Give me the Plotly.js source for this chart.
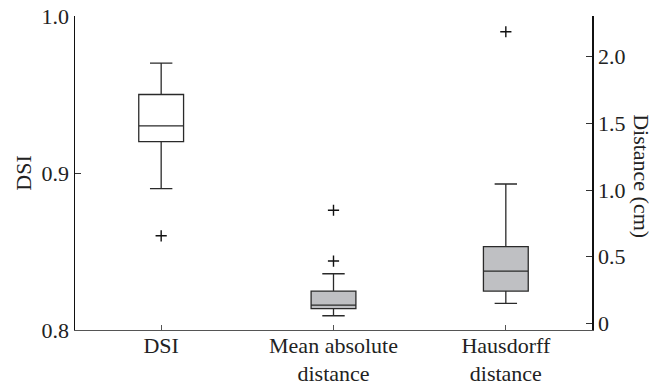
<!DOCTYPE html>
<html>
<head>
<meta charset="utf-8">
<script src="https://cdn.plot.ly/plotly-3.0.1.min.js"></script>
<style>html,body{margin:0;padding:0;background:#fff;}#chart{width:662px;height:385px;}</style>
</head>
<body>
<div id="chart"></div>
<script>
// Categories and tick labels
const categories = ["DSI", "Mean absolute<br>distance", "Hausdorff<br>distance"];
const leftTickVals = [0.8, 0.9, 1.0];
const leftTickText = ["0.8", "0.9", "1.0"];
const rightTickVals = [0, 0.5, 1.0, 1.5, 2.0];
const rightTickText = ["0", "0.5", "1.0", "1.5", "2.0"];

// DSI (left axis)
const dsiStats = {q1: 0.92, median: 0.93, q3: 0.95, lower: 0.89, upper: 0.97};
const dsiOutliers = [0.86];

// Distances in cm (right axis)
const madStats = {q1: 0.11, median: 0.137, q3: 0.242, lower: 0.057, upper: 0.372};
const madOutliers = [0.467, 0.848];
const hdStats = {q1: 0.242, median: 0.392, q3: 0.575, lower: 0.15, upper: 1.045};
const hdOutliers = [2.187];

const serif = "Liberation Serif";
const boxLine = {color: "#2a2a2a", width: 1.3};
const grayFill = "#bfc0c3";

function boxTrace(cat, s, fill, yaxis) {
  return {
    type: "box", x: [cat], q1: [s.q1], median: [s.median], q3: [s.q3],
    lowerfence: [s.lower], upperfence: [s.upper],
    width: 0.26, whiskerwidth: 0.5, fillcolor: fill, line: boxLine,
    yaxis: yaxis, showlegend: false, hoverinfo: "skip", boxpoints: false
  };
}
function outlierTrace(cat, vals, yaxis) {
  return {
    type: "scatter", mode: "markers", x: vals.map(() => cat), y: vals, yaxis: yaxis,
    marker: {symbol: "cross-thin-open", size: 8, color: "#111", line: {width: 1.4, color: "#111"}},
    showlegend: false, hoverinfo: "skip"
  };
}

const data = [
  boxTrace(categories[0], dsiStats, "#ffffff", "y"),
  outlierTrace(categories[0], dsiOutliers, "y"),
  boxTrace(categories[1], madStats, grayFill, "y2"),
  outlierTrace(categories[1], madOutliers, "y2"),
  boxTrace(categories[2], hdStats, grayFill, "y2"),
  outlierTrace(categories[2], hdOutliers, "y2")
];

const tf = {family: serif, size: 22, color: "#222"};
const layout = {
  width: 662, height: 385,
  margin: {l: 75, r: 70, t: 16, b: 55},
  paper_bgcolor: "#fff", plot_bgcolor: "#fff",
  font: tf,
  showlegend: false,
  xaxis: {
    type: "category", categoryorder: "array", categoryarray: categories,
    range: [-0.5, 2.5], showline: true, linecolor: "#555", linewidth: 1.3,
    ticks: "inside", ticklen: 5, tickcolor: "#555", tickwidth: 1,
    ticklabelstandoff: -5,
    showgrid: false, zeroline: false, tickfont: tf
  },
  yaxis: {
    range: [0.8, 1.0], tickvals: leftTickVals, ticktext: leftTickText,
    showline: true, linecolor: "#111", linewidth: 1.5,
    ticks: "inside", ticklen: 6, tickcolor: "#333",
    showgrid: false, zeroline: false,
    title: {text: "DSI", font: tf, standoff: 4},
    tickfont: tf
  },
  yaxis2: {
    overlaying: "y", side: "right", range: [-0.05, 2.305],
    tickvals: rightTickVals, ticktext: rightTickText,
    showline: true, linecolor: "#111", linewidth: 1.5,
    ticks: "inside", ticklen: 6, tickcolor: "#333",
    showgrid: false, zeroline: false,
    tickfont: tf
  },
  annotations: [{
    text: "Distance (cm)", textangle: 90, xref: "paper", yref: "paper",
    x: 1.0, xanchor: "center", xshift: 50, y: 0.49, yanchor: "middle", showarrow: false,
    font: tf
  }]
};

Plotly.newPlot("chart", data, layout, {staticPlot: true, displayModeBar: false});
</script>
</body>
</html>
